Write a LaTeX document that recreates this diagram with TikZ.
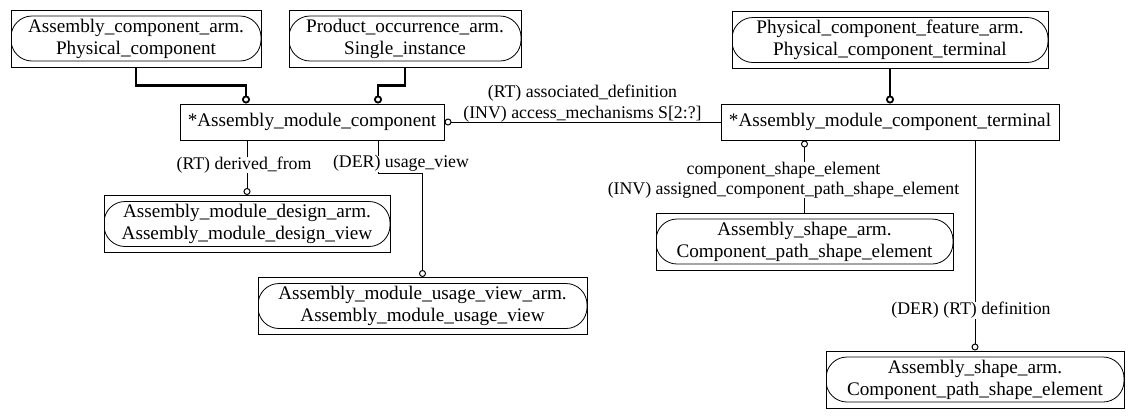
\documentclass[tikz,border=0pt]{standalone}
\usepackage{fontspec}
\setmainfont{Liberation Serif}
\usetikzlibrary{arrows.meta}

\begin{document}
\begin{tikzpicture}[x=1pt,y=-1pt,line width=1pt,
	font=\fontsize{19.2}{22}\selectfont,
	entity/.style={draw,rectangle,minimum height=36,inner sep=0pt},
	armbox/.style={draw,rectangle,minimum height=57,inner sep=0pt,align=center,
		path picture={\draw[line width=.8pt,rounded corners=21pt]
			([yshift=-6]path picture bounding box.north west) rectangle
			([yshift=6]path picture bounding box.south east);}},
	lbl/.style={fill=white,inner xsep=1pt,inner ysep=0pt,align=center,
		font=\fontsize{17.8}{20.5}\selectfont},
	rel/.style={line width=1pt},
	ring/.tip={Circle[open,length=7pt,width=7pt]},
	isa/.style={line width=2.6pt,-{Circle[open,length=8pt,width=8pt,line width=1.8pt]}}]

\useasboundingbox (0,0) rectangle (1134,418);

\node[armbox,minimum width=250]  (pc)    at (136,38.5)   {Assembly\_component\_arm.\\Physical\_component};
 \node[armbox,minimum width=232] (si)    at (405,38.5)   {Product\_occurrence\_arm.\\Single\_instance};
	\node[armbox,minimum width=316] (pct)   at (890,40)     {Physical\_component\_feature\_arm.\\Physical\_component\_terminal};
	\node[entity,minimum width=264] (amc)   at (312,122)    {*Assembly\_module\_component};
	\node[entity,minimum width=338] (amct)  at (890,122)    {*Assembly\_module\_component\_terminal};
	\node[armbox,minimum width=286] (amdv)  at (247,224)    {Assembly\_module\_design\_arm.\\Assembly\_module\_design\_view};
	\node[armbox,minimum width=329] (amuv)  at (422.5,306)  {Assembly\_module\_usage\_view\_arm.\\Assembly\_module\_usage\_view};
	\node[armbox,minimum width=297] (cpse)  at (804.5,241.5) {Assembly\_shape\_arm.\\Component\_path\_shape\_element};
	\node[armbox,minimum width=298] (cpsed) at (975,379.5)  {Assembly\_shape\_arm.\\Component\_path\_shape\_element};

	% supertypes
	\draw[isa] (pc.south) -- ++(0,18) -| ([xshift=-66]amc.north);
	\draw[isa] (si.south) -- ++(0,18) -| ([xshift=66]amc.north);
	\draw[isa] (pct) -- (amct);

	% attributes
	\draw[rel,ring-] (amc) -- node[lbl,above,fill=none,inner ysep=0pt,yshift=-1,font=\fontsize{17.8}{21}\selectfont]
		{(RT) associated\_definition\\(INV) access\_mechanisms S[2:?]} (amct);
	\draw[rel,-ring] (amdv.north |- amc.south) -- node[lbl,pos=.45,xshift=-3] {(RT) derived\_from} (amdv.north);
	\draw[rel,-ring] ([xshift=66]amc.south) -- node[lbl,pos=.7,xshift=23] {(DER) usage\_view} ++(0,33) -| (amuv.north);
	\draw[rel,ring-] (cpse.north |- amct.south) -- node[lbl,pos=.55,xshift=-21]
		{component\_shape\_element\\(INV) assigned\_component\_path\_shape\_element} (cpse.north);
	\draw[rel,-ring] (cpsed.north |- amct.south) -- node[lbl,pos=.81,xshift=-4] {(DER) (RT) definition} (cpsed.north);
\end{tikzpicture}
\end{document}
